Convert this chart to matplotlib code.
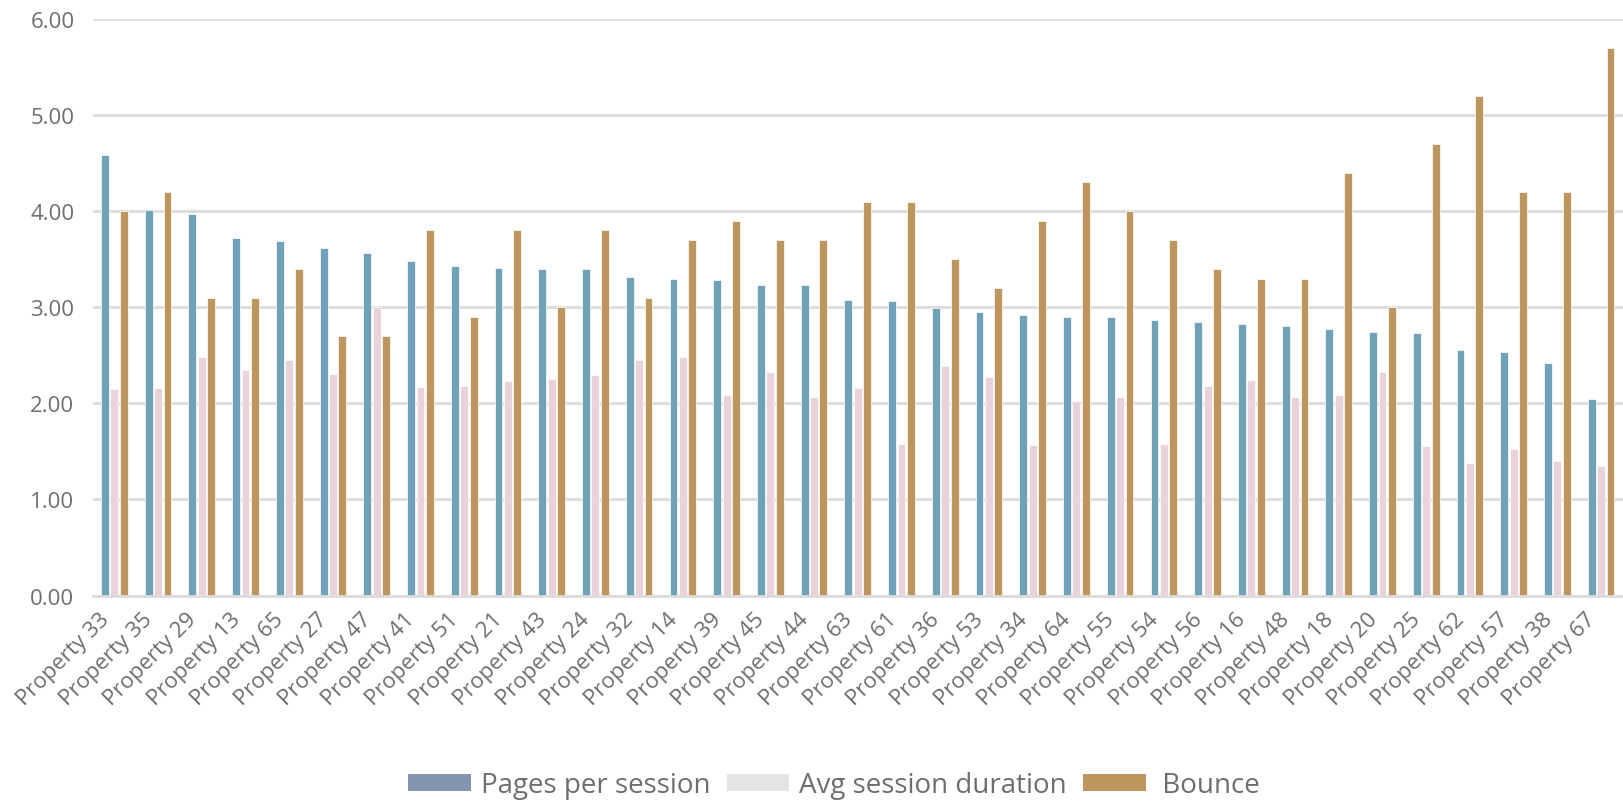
import matplotlib
matplotlib.use("Agg")
import matplotlib.pyplot as plt
import matplotlib.transforms as mtransforms
import numpy as np
from matplotlib.patches import Patch

properties = [
    "Property 33", "Property 35", "Property 29", "Property 13", "Property 65",
    "Property 27", "Property 47", "Property 41", "Property 51", "Property 21",
    "Property 43", "Property 24", "Property 32", "Property 14", "Property 39",
    "Property 45", "Property 44", "Property 63", "Property 61", "Property 36",
    "Property 53", "Property 34", "Property 64", "Property 55", "Property 54",
    "Property 56", "Property 16", "Property 48", "Property 18", "Property 20",
    "Property 25", "Property 62", "Property 57", "Property 38", "Property 67",
]
pages_per_session = [
    4.59, 4.01, 3.97, 3.72, 3.69, 3.62, 3.57, 3.48, 3.43, 3.41,
    3.40, 3.40, 3.32, 3.29, 3.28, 3.23, 3.23, 3.08, 3.07, 2.99,
    2.95, 2.92, 2.90, 2.90, 2.87, 2.85, 2.83, 2.81, 2.77, 2.74,
    2.73, 2.56, 2.54, 2.42, 2.05,
]
avg_session_duration = [
    2.15, 2.16, 2.48, 2.35, 2.45, 2.31, 3.00, 2.17, 2.18, 2.23,
    2.25, 2.30, 2.45, 2.48, 2.09, 2.33, 2.07, 2.16, 1.58, 2.39,
    2.28, 1.57, 2.02, 2.07, 1.58, 2.18, 2.24, 2.07, 2.09, 2.33,
    1.56, 1.38, 1.53, 1.40, 1.35,
]
bounce = [
    4.00, 4.20, 3.10, 3.10, 3.40, 2.70, 2.70, 3.80, 2.90, 3.80,
    3.00, 3.80, 3.10, 3.70, 3.90, 3.70, 3.70, 4.10, 4.10, 3.50,
    3.20, 3.90, 4.30, 4.00, 3.70, 3.40, 3.30, 3.30, 4.40, 3.00,
    4.70, 5.20, 4.20, 4.20, 5.70,
]
series_labels = ["Pages per session", "Avg session duration", " Bounce"]

bar_colors = ["#6FA1B9", "#E9D2DA", "#BC965D"]
legend_colors = ["#8395B0", "#E4E4E4", "#BC965D"]
text_color = "#6E6E6E"
grid_color = "#DCDCDC"

plt.rcParams["font.family"] = ["Open Sans", "DejaVu Sans"]

fig = plt.figure(figsize=(16.23, 8.04), dpi=100)
ax = fig.add_axes([0.057, 0.258, 0.943, 0.717])

x = np.arange(len(properties))
width = 0.18
step = 0.215
for i, values in enumerate([pages_per_session, avg_session_duration, bounce]):
    ax.bar(x + (i - 1) * step, values, width=width, color=bar_colors[i],
           edgecolor="white", linewidth=0.5, zorder=2)

ax.set_xlim(-0.5, len(properties) - 0.5)
ax.set_ylim(0, 6)
ax.set_yticks(np.arange(0, 7, 1))
ax.set_yticklabels([f"{v:.2f}" for v in range(7)])
ax.yaxis.grid(True, color=grid_color, linewidth=2, zorder=0)
ax.set_axisbelow(True)

for side in ["top", "right", "left"]:
    ax.spines[side].set_visible(False)
ax.spines["bottom"].set_color(grid_color)
ax.spines["bottom"].set_linewidth(2)

ax.tick_params(axis="y", length=0, labelcolor=text_color, labelsize=16, pad=13)
ax.tick_params(axis="x", length=0, labelcolor=text_color, labelsize=16, pad=9)
ax.set_xticks(x)
ax.set_xticklabels(properties, rotation=45, ha="right", rotation_mode="anchor")

# nudge the slanted labels left so they end just before each group
shift = mtransforms.ScaledTranslation(-16 / 100, 0, fig.dpi_scale_trans)
for lbl in ax.get_xticklabels():
    lbl.set_transform(lbl.get_transform() + shift)

handles = [Patch(facecolor=c, edgecolor="none", label=l)
           for c, l in zip(legend_colors, series_labels)]
fig.legend(handles=handles, loc="center", bbox_to_anchor=(0.514, 0.022),
           ncol=3, frameon=False, handlelength=2.25, handleheight=0.6,
           handletextpad=0.35, columnspacing=0.6, labelcolor=text_color,
           prop={"size": 20})

fig.savefig("out.png", dpi=100)
